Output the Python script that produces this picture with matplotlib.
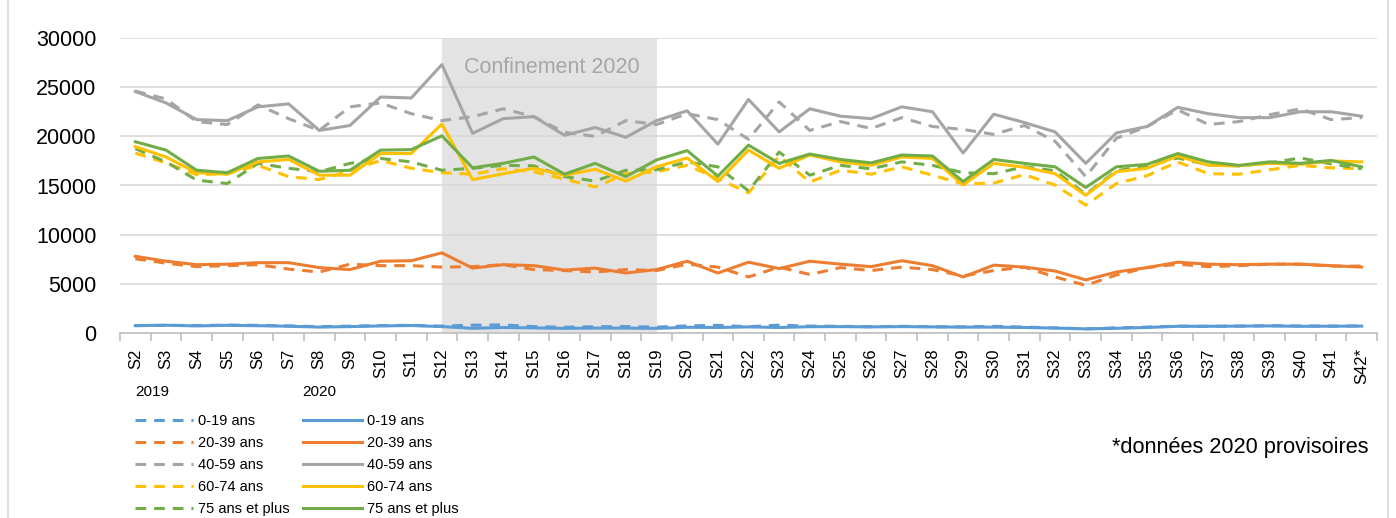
import numpy as np
import matplotlib
matplotlib.use('Agg')
import matplotlib.pyplot as plt
from matplotlib.lines import Line2D

# weekly counts by age group, 2019 (dashed) vs 2020 (solid)
weeks = ['S' + str(i) for i in range(2, 42)] + ['S42*']

blue_2019 = [750, 780, 760, 800, 780, 720, 650, 700, 750, 780, 700, 800, 820, 650, 580, 640, 650, 600, 720, 780,
             640, 800, 700, 680, 640, 680, 640, 620, 680, 600, 520, 420, 520, 600, 700, 680, 700, 740, 720, 700, 720]
blue_2020 = [750, 790, 720, 780, 740, 690, 600, 650, 720, 760, 650, 480, 560, 520, 470, 500, 500, 470, 580, 560,
             620, 560, 640, 650, 620, 650, 620, 600, 600, 560, 500, 420, 480, 560, 680, 680, 700, 720, 680, 690, 700]
orange_2019 = [7550, 7100, 6750, 6850, 6950, 6500, 6200, 7000, 6850, 6850, 6700, 6750, 6950, 6450, 6350, 6200, 6450,
               6350, 7000, 6700, 5700, 6700, 5950, 6650, 6350, 6700, 6450, 5800, 6350, 6700, 5700, 4850, 5900, 6650,
               7000, 6750, 6850, 7000, 7000, 6800, 6800]
orange_2020 = [7800, 7300, 6950, 7000, 7150, 7150, 6650, 6450, 7300, 7350, 8150, 6600, 6950, 6850, 6400, 6600, 6100,
               6450, 7300, 6100, 7200, 6550, 7300, 7000, 6750, 7350, 6850, 5700, 6900, 6700, 6300, 5400, 6200, 6650,
               7200, 7000, 6950, 7000, 7000, 6850, 6700]
gray_2019 = [24600, 23800, 21500, 21200, 23200, 21800, 20600, 23000, 23400, 22300, 21600, 22000, 22800, 22000, 20400,
             20000, 21600, 21200, 22300, 21700, 19700, 23500, 20600, 21500, 20800, 21900, 21000, 20700, 20200, 21100,
             19500, 15900, 19800, 21000, 22700, 21200, 21500, 22200, 22800, 21700, 21900]
gray_2020 = [24550, 23400, 21700, 21600, 23000, 23300, 20600, 21100, 24000, 23900, 27300, 20300, 21800, 22000, 20100,
             20900, 19900, 21600, 22600, 19200, 23750, 20450, 22800, 22050, 21800, 23000, 22500, 18300, 22250, 21400,
             20450, 17250, 20350, 21000, 22950, 22300, 21900, 21900, 22500, 22500, 22050]
yellow_2019 = [18300, 17300, 16100, 16200, 17050, 15900, 15600, 16500, 17550, 16750, 16300, 16150, 16700, 16400, 15650,
               14850, 16200, 16400, 17050, 15700, 14250, 18000, 15350, 16550, 16150, 16900, 16050, 15150, 15250, 16100,
               15050, 13000, 15200, 16000, 17400, 16200, 16150, 16600, 17050, 16800, 16700]
yellow_2020 = [18950, 17900, 16300, 16150, 17400, 17650, 16050, 16050, 18250, 18250, 21250, 15600, 16200, 16750, 16050,
               16650, 15450, 16900, 17800, 15400, 18600, 16750, 18100, 17400, 17050, 17900, 17750, 15050, 17250, 16850,
               16200, 14000, 16400, 16750, 18000, 17050, 17000, 17250, 17150, 17500, 17400]
green_2019 = [18750, 17400, 15550, 15200, 17250, 16750, 16400, 17250, 17750, 17400, 16550, 16750, 17050, 17000, 15900,
              15450, 16550, 16600, 17400, 16900, 14450, 18400, 16050, 17050, 16700, 17400, 17050, 16300, 16200, 16900,
              16500, 14100, 16500, 17000, 17800, 17100, 17000, 17300, 17800, 17200, 16700]
green_2020 = [19450, 18600, 16550, 16300, 17750, 18000, 16450, 16550, 18600, 18650, 20050, 16800, 17250, 17900, 16150,
              17250, 15900, 17600, 18550, 15950, 19100, 17250, 18200, 17650, 17300, 18100, 18000, 15400, 17650, 17250,
              16900, 14800, 16900, 17150, 18250, 17400, 17050, 17400, 17250, 17550, 16900]

labels = ['0-19 ans', '20-39 ans', '40-59 ans', '60-74 ans', '75 ans et plus']
colors = ['#5B9BD5', '#ED7D31', '#A5A5A5', '#FFC000', '#70AD47']
s2019 = [blue_2019, orange_2019, gray_2019, yellow_2019, green_2019]
s2020 = [blue_2020, orange_2020, gray_2020, yellow_2020, green_2020]

plt.rcParams['font.family'] = ['Liberation Sans', 'DejaVu Sans']

fig = plt.figure(figsize=(13.96, 5.18), dpi=100)
ax = fig.add_axes([120 / 1396, 1 - 333 / 518, 1257 / 1396, 295 / 518])

x = np.arange(len(weeks))
# lockdown period S12 -> S19
ax.axvspan(weeks.index('S12'), weeks.index('S19'), color='#e3e3e3', zorder=0, lw=0)
ax.text(13.6, 27000, 'Confinement 2020', color='#a6a6a6', fontsize=15.5, ha='center', va='center', zorder=1)

lw = 2.2
handles = []
for vals, c, lab in zip(s2019, colors, labels):
    h, = ax.plot(x, vals, color=c, lw=lw, dashes=(3.5, 2.6), zorder=3)
    handles.append(h)
for vals, c, lab in zip(s2020, colors, labels):
    h, = ax.plot(x, vals, color=c, lw=lw, zorder=4)
    handles.append(h)

ax.set_xlim(-0.5, len(weeks) - 0.5)
ax.set_ylim(0, 30000)
ax.set_yticks(range(0, 30001, 5000))
ax.grid(axis='y', color='#d9d9d9', lw=1.2, zorder=0)
ax.set_axisbelow(True)
for s in ['top', 'right', 'left']:
    ax.spines[s].set_visible(False)
ax.spines['bottom'].set_color('#bfbfbf')
ax.spines['bottom'].set_linewidth(1.2)
ax.tick_params(axis='y', length=0, pad=17, labelsize=15.5)

ax.set_xticks(x)
ax.set_xticklabels(weeks, rotation=90, fontsize=12)
ax.set_xticks(np.arange(-0.5, len(weeks)), minor=True)
ax.tick_params(axis='x', which='major', length=0, pad=11)
ax.tick_params(axis='x', which='minor', length=6, color='#bfbfbf', width=1.2)

leg = fig.legend(handles, labels + labels, ncol=2, frameon=False, fontsize=10.5,
                 loc='upper left', bbox_to_anchor=(135 / 1396, 1 - 414 / 518),
                 handlelength=4.0, handletextpad=0.35, columnspacing=0.9,
                 labelspacing=0.55, borderaxespad=0, borderpad=0)
fig.text(135 / 1396, 1 - 392 / 518, '2019', fontsize=11, va='center')
fig.text(302 / 1396, 1 - 392 / 518, '2020', fontsize=11, va='center')
fig.text(1369 / 1396, 1 - 448 / 518, '*données 2020 provisoires', fontsize=15.7, ha='right', va='center')

# light frame at the edges
fig.add_artist(Line2D([8 / 1396, 8 / 1396], [0, 1], color='#d9d9d9', lw=1.2))
fig.add_artist(Line2D([1388 / 1396, 1388 / 1396], [0, 1], color='#d9d9d9', lw=1.2))

fig.savefig('out.png', dpi=100)
